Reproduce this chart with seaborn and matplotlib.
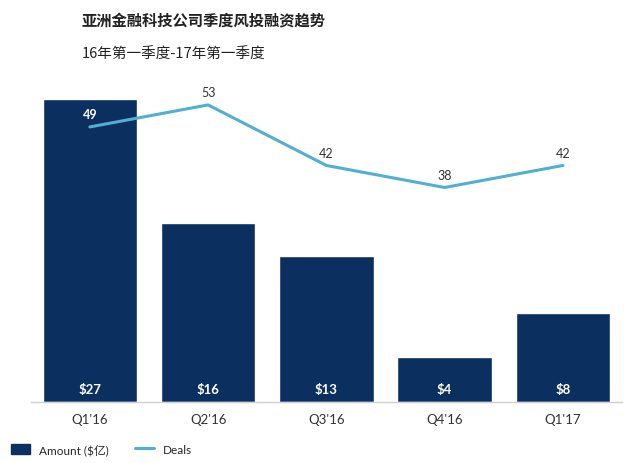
import numpy as np
import pandas as pd
import matplotlib.pyplot as plt
import seaborn as sns
from matplotlib.patches import Patch
from matplotlib.lines import Line2D

# data
quarters = ["Q1'16", "Q2'16", "Q3'16", "Q4'16", "Q1'17"]
amount = [27, 16, 13, 4, 8]          # $亿
deals = [49, 53, 42, 38, 42]

navy = '#0b2f5f'
sky = '#52afd2'

sns.set_style('white')
plt.rcParams['font.family'] = ['Lato', 'Noto Sans CJK SC', 'DejaVu Sans']

df = pd.DataFrame({'quarter': quarters, 'amount': amount, 'deals': deals,
                   'pos': np.arange(len(quarters))})

fig = plt.figure(figsize=(6.4, 4.64), dpi=100)
ax = fig.add_axes([0.048, 0.131, 0.924, 0.725])

sns.barplot(data=df, x='quarter', y='amount', color=navy, width=0.8,
            saturation=1, ax=ax)
ax.set_ylim(0, 30)
ax.set_xlim(-0.5, 4.5)
ax.set_xlabel('')
ax.set_ylabel('')
ax.set_yticks([])
ax.tick_params(axis='x', length=0, labelsize=9.5, colors='#333333', pad=8)
for s in ['top', 'left', 'right']:
    ax.spines[s].set_visible(False)
ax.spines['bottom'].set_color('#d0d0d0')
ax.spines['bottom'].set_linewidth(1)

for i, v in enumerate(amount):
    ax.text(i, 0.6, f'${v}', ha='center', va='bottom', color='white',
            fontsize=9.5, fontweight='bold')

ax2 = ax.twinx()
sns.lineplot(data=df, x='pos', y='deals', color=sky, linewidth=2.2, ax=ax2)
ax2.set_ylim(-1.0, 60.1)
ax2.set_xlim(-0.5, 4.5)
ax2.set_yticks([])
ax2.set_ylabel('')
ax2.set_xlabel('')
for s in ['top', 'left', 'right', 'bottom']:
    ax2.spines[s].set_visible(False)

for i, v in enumerate(deals):
    c = 'white' if i == 0 else '#333333'
    ax2.annotate(str(v), (i, v), xytext=(0, 5), textcoords='offset points',
                 ha='center', va='bottom', color=c, fontsize=9,
                 fontweight='bold' if i == 0 else 'normal')

fig.text(0.128, 0.955, '亚洲金融科技公司季度风投融资趋势', fontsize=11,
         fontweight='bold', color='#222222', va='center',
         family=['Noto Sans CJK SC', 'DejaVu Sans'])
fig.text(0.128, 0.882, '16年第一季度-17年第一季度', fontsize=10.5,
         color='#222222', va='center',
         family=['Noto Sans CJK SC', 'DejaVu Sans'])

handles = [Patch(facecolor=navy, edgecolor=navy, label='Amount ($亿)'),
           Line2D([0], [0], color=sky, linewidth=2.2, label='Deals')]
fig.legend(handles=handles, loc='center left', bbox_to_anchor=(0.0, 0.03),
           ncol=2, frameon=False, fontsize=8.5, handlelength=1.6,
           handleheight=0.9, columnspacing=2.2, handletextpad=0.8)

fig.savefig('out.png', dpi=100)
